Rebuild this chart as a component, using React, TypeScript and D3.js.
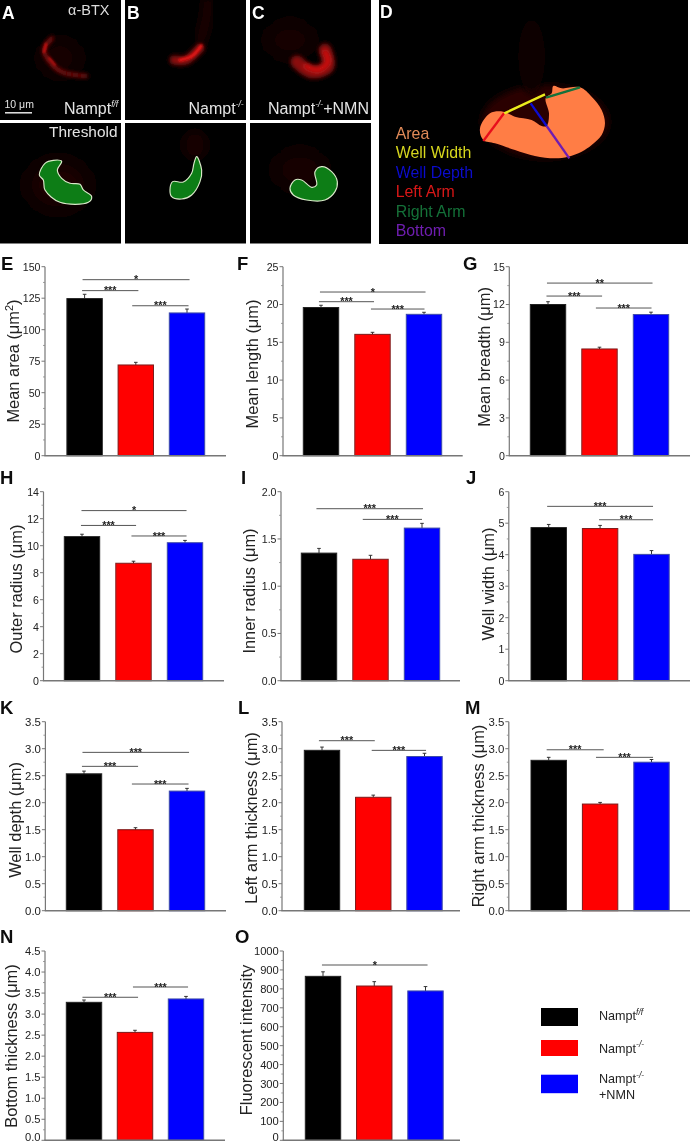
import React from "react";
import * as d3 from "d3";

// ---------- data ----------
const groups = ["Nampt f/f", "Nampt -/-", "Nampt -/- +NMN"];
const groupFill = ["#000000", "#ff0000", "#0000ff"];
const groupEdge = ["#222222", "#7d1a1a", "#3d4aa8"];

const areaValues = [124.7, 72, 113.3];
const areaErrors = [3.4, 2.1, 3.1];
const areaTicks = [0, 25, 50, 75, 100, 125, 150];
const lengthValues = [19.6, 16.05, 18.7];
const lengthErrors = [0.3, 0.27, 0.27];
const lengthTicks = [0, 5, 10, 15, 20, 25];
const breadthValues = [12.0, 8.47, 11.2];
const breadthErrors = [0.22, 0.14, 0.19];
const breadthTicks = [0, 3, 6, 9, 12, 15];
const outerValues = [10.67, 8.7, 10.22];
const outerErrors = [0.18, 0.15, 0.17];
const outerTicks = [0, 2, 4, 6, 8, 10, 12, 14];
const innerValues = [1.35, 1.285, 1.615];
const innerErrors = [0.05, 0.042, 0.05];
const innerTicks = [0, 0.5, 1.0, 1.5, 2.0];
const widthValues = [4.86, 4.83, 4.01];
const widthErrors = [0.1, 0.1, 0.12];
const widthTicks = [0, 1, 2, 3, 4, 5, 6];
const depthValues = [2.535, 1.5, 2.215];
const depthErrors = [0.05, 0.037, 0.05];
const leftValues = [2.97, 2.1, 2.855];
const leftErrors = [0.06, 0.04, 0.06];
const rightValues = [2.785, 1.975, 2.75];
const rightErrors = [0.055, 0.03, 0.05];
const thicknessTicks = [0, 0.5, 1.0, 1.5, 2.0, 2.5, 3.0, 3.5];
const bottomValues = [3.28, 2.565, 3.36];
const bottomErrors = [0.055, 0.05, 0.06];
const bottomTicks = [0, 0.5, 1.0, 1.5, 2.0, 2.5, 3.0, 3.5, 4.0, 4.5];
const fluorValues = [866, 815, 789];
const fluorErrors = [24, 23, 23];
const fluorTicks = [0, 100, 200, 300, 400, 500, 600, 700, 800, 900, 1000];

// significance: [label, from group, to group, height in axis units]
type Sig = [string, number, number, number];
const areaSig: Sig[] = [["*", -0.04, 2.05, 139.7], ["***", -0.05, 1.05, 131], ["***", 0.93, 2.03, 119]];
const lengthSig: Sig[] = [["*", -0.02, 2.03, 21.65], ["***", -0.04, 1.03, 20.37], ["***", 0.97, 2.01, 19.4]];
const breadthSig: Sig[] = [["**", -0.02, 2.03, 13.7], ["***", -0.03, 1.05, 12.67], ["***", 0.93, 2.01, 11.72]];
const outerSig: Sig[] = [["*", -0.01, 2.03, 12.6], ["***", -0.02, 1.05, 11.5], ["***", 0.96, 2.03, 10.72]];
const innerSig: Sig[] = [["***", -0.05, 2.02, 1.82], ["***", 0.85, 2.0, 1.707]];
const widthSig: Sig[] = [["***", -0.03, 2.03, 5.535], ["***", 0.98, 2.03, 5.11]];
const depthSig: Sig[] = [["***", -0.03, 2.04, 2.932], ["***", -0.04, 1.05, 2.673], ["***", 0.93, 2.03, 2.346]];
const leftSig: Sig[] = [["***", -0.06, 1.03, 3.148], ["***", 0.97, 2.03, 2.969]];
const rightSig: Sig[] = [["***", -0.04, 1.07, 2.98], ["***", 0.92, 2.03, 2.84]];
const bottomSig: Sig[] = [["***", -0.03, 1.06, 3.4], ["***", 0.96, 2.04, 3.644]];
const fluorSig: Sig[] = [["*", -0.02, 2.04, 926]];

// ---------- layout ----------
const SANS = "'Liberation Sans', Arial, sans-serif";
const rowE = { top: 266.7, bottom: 455.7, tickFont: 10.6 };
const rowH = { top: 491.7, bottom: 680.7, tickFont: 10.6 };
const rowK = { top: 721.7, bottom: 910.7, tickFont: 11.4 };
const rowN = { top: 951, bottom: 1140.3, tickFont: 11.2 };

type P = {
  id: string; lx: number; ly: number; row: any; ax: number; end: number; c0: number; c2: number;
  values: number[]; errors: number[]; ticks: number[]; sig: Sig[];
  label: any; labelX: number; labelY: number; decimals: number;
};
const panels: P[] = [
  { id: "E", lx: 1, ly: 270, row: rowE, ax: 45, end: 226, c0: 84.6, c2: 187, values: areaValues, errors: areaErrors, ticks: areaTicks, sig: areaSig, label: <>Mean area (μm<tspan dy={-6} fontSize={11}>2</tspan><tspan dy={6}>)</tspan></>, labelX: 19, labelY: 361, decimals: 0 },
  { id: "F", lx: 237, ly: 270, row: rowE, ax: 283, end: 462.7, c0: 321, c2: 424, values: lengthValues, errors: lengthErrors, ticks: lengthTicks, sig: lengthSig, label: "Mean length (μm)", labelX: 258, labelY: 364, decimals: 0 },
  { id: "G", lx: 463, ly: 270, row: rowE, ax: 509.3, end: 690, c0: 548, c2: 651, values: breadthValues, errors: breadthErrors, ticks: breadthTicks, sig: breadthSig, label: "Mean breadth (μm)", labelX: 490, labelY: 357, decimals: 0 },
  { id: "H", lx: 0, ly: 484, row: rowH, ax: 43.5, end: 224, c0: 82, c2: 185, values: outerValues, errors: outerErrors, ticks: outerTicks, sig: outerSig, label: "Outer radius (μm)", labelX: 22, labelY: 589, decimals: 0 },
  { id: "I", lx: 241, ly: 484, row: rowH, ax: 281, end: 460, c0: 319, c2: 422, values: innerValues, errors: innerErrors, ticks: innerTicks, sig: innerSig, label: "Inner radius (μm)", labelX: 255, labelY: 591, decimals: 1 },
  { id: "J", lx: 466, ly: 484, row: rowH, ax: 508.8, end: 690, c0: 548.7, c2: 651.5, values: widthValues, errors: widthErrors, ticks: widthTicks, sig: widthSig, label: "Well width (μm)", labelX: 494, labelY: 584, decimals: 0 },
  { id: "K", lx: 0, ly: 714, row: rowK, ax: 45.4, end: 226, c0: 84, c2: 187, values: depthValues, errors: depthErrors, ticks: thicknessTicks, sig: depthSig, label: "Well depth (μm)", labelX: 20.7, labelY: 820, decimals: 1 },
  { id: "L", lx: 238, ly: 714, row: rowK, ax: 282, end: 460, c0: 322, c2: 424.5, values: leftValues, errors: leftErrors, ticks: thicknessTicks, sig: leftSig, label: "Left arm thickness (μm)", labelX: 257, labelY: 818, decimals: 1 },
  { id: "M", lx: 465, ly: 714, row: rowK, ax: 508.8, end: 690, c0: 548.7, c2: 651.5, values: rightValues, errors: rightErrors, ticks: thicknessTicks, sig: rightSig, label: "Right arm thickness (μm)", labelX: 484, labelY: 816, decimals: 1 },
  { id: "N", lx: 0, ly: 943, row: rowN, ax: 45, end: 225, c0: 84, c2: 186, values: bottomValues, errors: bottomErrors, ticks: bottomTicks, sig: bottomSig, label: "Bottom thickness (μm)", labelX: 17, labelY: 1046, decimals: 1 },
  { id: "O", lx: 235, ly: 943, row: rowN, ax: 283.3, end: 460, c0: 323, c2: 425.5, values: fluorValues, errors: fluorErrors, ticks: fluorTicks, sig: fluorSig, label: "Fluorescent intensity", labelX: 252, labelY: 1040, decimals: 0 },
];
const BAR_W = 36.4;

// ---------- bar panel ----------
function BarPanel({ p }: { p: P }) {
  const { row } = p;
  const domainMax = p.ticks[p.ticks.length - 1];
  const y = d3.scaleLinear().domain([0, domainMax]).range([row.bottom, row.top]);
  const x = d3.scaleLinear().domain([0, 2]).range([p.c0, p.c2]);
  const fmt = d3.format(`.${p.decimals}f`);
  const minors = d3.pairs(p.ticks).map(([a, b]) => (a + b) / 2);
  const bottomFit = row === rowN ? 3 : 0; // keeps the last row's zero label inside the page
  return (
    <g fontFamily={SANS}>
      <text x={p.lx} y={p.ly} fontSize={18.5} fontWeight="bold" fill="#111">{p.id}</text>
      <text transform={`translate(${p.labelX},${p.labelY}) rotate(-90)`} textAnchor="middle" fontSize={16.4} fill="#222">{p.label}</text>
      {p.values.map((v, i) => {
        const cx = x(i);
        return (
          <g key={i}>
            <line x1={cx} x2={cx} y1={y(v)} y2={y(v + p.errors[i])} stroke="#333" strokeWidth={1} />
            <line x1={cx - 1.8} x2={cx + 1.8} y1={y(v + p.errors[i])} y2={y(v + p.errors[i])} stroke="#333" strokeWidth={1} />
            <rect x={cx - BAR_W / 2 + 0.5} width={BAR_W - 1} y={y(v)} height={row.bottom - y(v)} fill={groupFill[i]} stroke={groupEdge[i]} strokeWidth={1} />
          </g>
        );
      })}
      {p.sig.map(([s, a, b, h], i) => (
        <g key={i}>
          <line x1={x(a)} x2={x(b)} y1={y(h)} y2={y(h)} stroke="#555" strokeWidth={1} />
          <text x={(x(a) + x(b)) / 2} y={y(h) + 3.6} textAnchor="middle" fontSize={10.8} fontWeight="bold" fill="#222">{s}</text>
        </g>
      ))}
      <line x1={p.ax} x2={p.ax} y1={row.top} y2={row.bottom} stroke="#777" strokeWidth={1.2} />
      <line x1={p.ax - 0.6} x2={p.end} y1={row.bottom} y2={row.bottom} stroke="#777" strokeWidth={1.5} />
      {p.ticks.map((t) => (
        <g key={t}>
          <line x1={p.ax - 3.5} x2={p.ax} y1={y(t)} y2={y(t)} stroke="#777" strokeWidth={1} />
          <text x={p.ax - 4.5} y={y(t) + row.tickFont * 0.36 - (t === 0 ? bottomFit : 0)} textAnchor="end" fontSize={row.tickFont} fill="#222">{fmt(t)}</text>
        </g>
      ))}
      {minors.map((t) => (
        <line key={t} x1={p.ax - 2} x2={p.ax} y1={y(t)} y2={y(t)} stroke="#888" strokeWidth={0.8} />
      ))}
    </g>
  );
}

// ---------- micrographs (outline points follow the picture) ----------
const outlineA: [number, number][] = [[118, 525], [135, 490], [160, 481], [185, 484], [172, 510], [185, 535], [210, 550], [240, 553], [250, 570], [275, 590], [265, 607], [180, 607], [135, 570], [130, 540]];
const outlineB: [number, number][] = [[590, 470], [605, 510], [600, 545], [575, 585], [545, 597], [515, 590], [510, 570], [518, 545], [550, 546], [575, 520], [582, 490]];
const outlineC: [number, number][] = [[870, 565], [885, 540], [905, 540], [935, 562], [950, 555], [945, 515], [965, 500], [995, 515], [1012, 545], [1005, 575], [975, 600], [920, 600], [880, 585]];
const outlineD: [number, number][] = [[315, 385], [345, 340], [385, 335], [420, 350], [470, 360], [500, 378], [515, 378], [522, 340], [512, 295], [530, 280], [535, 258], [560, 265], [615, 262], [650, 290], [680, 330], [690, 370], [680, 405], [650, 435], [620, 455], [580, 470], [540, 475], [480, 468], [420, 450], [360, 430], [325, 420]];
const closedCurve = d3.line().curve(d3.curveCatmullRomClosed.alpha(0.5));
const openCurve = d3.line().curve(d3.curveCatmullRom.alpha(0.5));
const straightClosed = d3.line().curve(d3.curveLinearClosed);

const measureLines: [string, number, number, number, number][] = [
  ["#e8101a", 325, 423, 387, 340],
  ["#ecec1c", 388, 340, 510, 283],
  ["#0a0ad0", 467, 310, 515, 378],
  ["#6f1fb0", 515, 378, 583, 475],
  ["#12703a", 513, 293, 615, 262],
];
const measureNames = ["Area", "Well Width", "Well Depth", "Left Arm", "Right Arm", "Bottom"];
const measureColors = ["#e08a58", "#d6d61e", "#0a0acb", "#d81818", "#137038", "#6f1fb0"];

function NamptLabel({ x, y, size, sup, fill, after, supSize }: any) {
  return (
    <text x={x} y={y} fontSize={size} fill={fill} fontFamily={SANS}>
      Nampt
      <tspan dy={-size * 0.42} fontSize={supSize ?? size * 0.6} fontStyle="italic">{sup}</tspan>
      {after ? <tspan dy={size * 0.42}>{after}</tspan> : null}
    </text>
  );
}

function Glow({ pts, w, color, blur, opacity = 1 }: any) {
  return (
    <path d={openCurve(pts) as string} fill="none" stroke={color} strokeWidth={w} strokeLinecap="round" filter={`url(#${blur})`} opacity={opacity} />
  );
}

function Micrographs() {
  return (
    <g>
      {[0, 125, 250].map((x) => (
        <g key={x}>
          <rect x={x} y={0} width={121} height={120} fill="#000" />
          <rect x={x} y={123} width={121} height={120.5} fill="#000" />
        </g>
      ))}
      <rect x={379} y={0} width={309} height={244} fill="#000" />

      <g clipPath="url(#clipA)">
        <ellipse cx={60} cy={58} rx={18} ry={16} fill="#1c0000" filter="url(#b8)" />
        <Glow pts={[[52, 38], [44, 50], [50, 62], [62, 72], [86, 76]]} w={4} color="#8a0c0c" blur="b2" />
        <Glow pts={[[46, 44], [44, 52]]} w={2.5} color="#d01515" blur="b1" />
        <Glow pts={[[49, 58], [55, 65]]} w={2} color="#c01212" blur="b1" />
        <Glow pts={[[60, 73], [75, 73]]} w={3} color="#ff1414" blur="b1" />
        <ellipse cx={58} cy={185} rx={30} ry={24} fill="#1a0000" filter="url(#b8)" />
      </g>
      <g clipPath="url(#clipB)">
        <Glow pts={[[165, 0], [160, 30], [172, 55]]} w={10} color="#100000" blur="b8" />
        <Glow pts={[[208, 0], [206, 20], [200, 42]]} w={7} color="#2c0303" blur="b4" />
        <Glow pts={[[174, 60], [186, 60], [200, 48]]} w={9} color="#8a0c0c" blur="b2" />
        <Glow pts={[[180, 60], [192, 56], [201, 46]]} w={3.5} color="#e01616" blur="b1" />
        <ellipse cx={195} cy={145} rx={12} ry={14} fill="#180000" filter="url(#b4)" />
      </g>
      <g clipPath="url(#clipC)">
        <ellipse cx={290} cy={40} rx={24} ry={18} fill="#120000" filter="url(#b8)" />
        <Glow pts={[[297, 62], [312, 72], [328, 66], [325, 50]]} w={13} color="#8a0c0c" blur="b2" />
        <Glow pts={[[306, 66], [318, 70], [328, 62], [325, 52]]} w={5} color="#d01212" blur="b2" />
        <ellipse cx={300} cy={170} rx={26} ry={20} fill="#140000" filter="url(#b8)" />
      </g>

      <g transform="scale(0.3333)" fill="#0a7d12" stroke="#d8e8c8" strokeWidth={3.5}>
        <path d={closedCurve(outlineA) as string} />
        <path d={closedCurve(outlineB) as string} />
        <path d={closedCurve(outlineC) as string} />
      </g>

      <g clipPath="url(#clipD)" transform="translate(375,0) scale(0.3333)">
        <ellipse cx={510} cy={365} rx={190} ry={110} fill="#2c0200" filter="url(#b8)" />
        <ellipse cx={470} cy={170} rx={40} ry={110} fill="#0c0000" filter="url(#b8)" />
        <path d={closedCurve(outlineD) as string} fill="#ff7d45" />
        {measureLines.map(([c, x1, y1, x2, y2]) => (
          <line key={c} x1={x1} y1={y1} x2={x2} y2={y2} stroke={c} strokeWidth={7} />
        ))}
      </g>
      {measureNames.map((n, i) => (
        <text key={n} x={395.7} y={139 + i * 19.4} fontSize={15.9} fontFamily={SANS} fill={measureColors[i]}>{n}</text>
      ))}

      <g fontFamily={SANS} fontWeight="bold" fontSize={17.5} fill="#fff">
        <text x={2} y={19}>A</text>
        <text x={127} y={19}>B</text>
        <text x={252} y={19}>C</text>
        <text x={380} y={18}>D</text>
      </g>
      <text x={68} y={15} fontSize={14.5} fontFamily={SANS} fill="#dcdcdc">α-BTX</text>
      <text x={49} y={137} fontSize={15.4} fontFamily={SANS} fill="#e4e4e4">Threshold</text>
      <text x={4.5} y={108} fontSize={10.5} fontFamily={SANS} fill="#e4e4e4">10 μm</text>
      <line x1={5} x2={32} y1={112.8} y2={112.8} stroke="#e8e8e8" strokeWidth={1.5} />
      <NamptLabel x={64} y={114} size={16} sup="f/f" supSize={8.5} fill="#e4e4e4" />
      <NamptLabel x={188.5} y={114} size={16} sup="-/-" supSize={8.5} fill="#e4e4e4" />
      <NamptLabel x={268} y={114} size={16} sup="-/-" supSize={8.5} after="+NMN" fill="#e4e4e4" />
    </g>
  );
}

function Legend() {
  const rows = [
    { y: 1008, h: 18, ty: 1020, sup: "f/f" },
    { y: 1040, h: 16, ty: 1052.7, sup: "-/-" },
    { y: 1074.7, h: 18.5, ty: 1083, sup: "-/-" },
  ];
  return (
    <g>
      {rows.map((r, i) => (
        <g key={i}>
          <rect x={541} y={r.y} width={37} height={r.h} fill={groupFill[i]} />
          <NamptLabel x={599} y={r.ty} size={12.6} sup={r.sup} supSize={8.5} fill="#222" />
        </g>
      ))}
      <text x={599} y={1098.7} fontSize={12.6} fontFamily={SANS} fill="#222">+NMN</text>
    </g>
  );
}

export default function App() {
  return (
    <svg width={690} height={1144} viewBox="0 0 690 1144" style={{ position: "absolute", left: 0, top: 0, display: "block", background: "#fff" }} aria-label={groups.join(", ")}>
      <defs>
        <filter id="soft" x="0" y="0" width="100%" height="100%"><feGaussianBlur stdDeviation="0.45" /></filter>
        {[["b1", 1], ["b2", 2.2], ["b4", 5], ["b8", 10]].map(([id, s]) => (
          <filter key={id as string} id={id as string} x="-60%" y="-60%" width="220%" height="220%"><feGaussianBlur stdDeviation={s as number} /></filter>
        ))}
        <clipPath id="clipA"><rect x={0} y={0} width={121} height={243} /></clipPath>
        <clipPath id="clipB"><rect x={125} y={0} width={121} height={243} /></clipPath>
        <clipPath id="clipC"><rect x={250} y={0} width={121} height={243} /></clipPath>
        <clipPath id="clipD"><rect x={12} y={0} width={927} height={732} /></clipPath>
      </defs>
      <rect width={690} height={1144} fill="#fff" />
      <g filter="url(#soft)">
        <Micrographs />
        {panels.map((p) => <BarPanel key={p.id} p={p} />)}
        <Legend />
      </g>
    </svg>
  );
}
